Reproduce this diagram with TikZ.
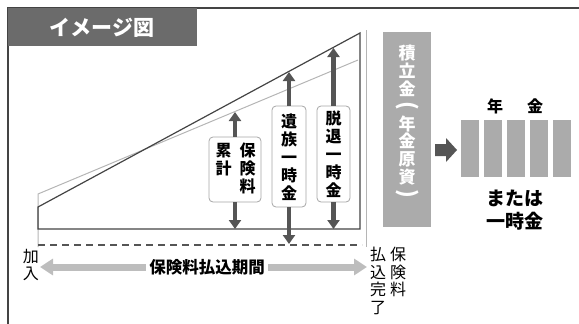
\documentclass[tikz,border=0pt]{standalone}
\usepackage{fontspec}
\setmainfont{Noto Sans CJK JP}[BoldFont={Noto Sans CJK JP Black}]
\usetikzlibrary{arrows.meta}
\definecolor{titlegray}{HTML}{6B6B6B}
\definecolor{boxgray}{HTML}{ABABAB}
\definecolor{arrowgray}{HTML}{555555}
\definecolor{linedark}{HTML}{444444}
\definecolor{lightline}{HTML}{B5B5B5}
\definecolor{periodgray}{HTML}{BDBDBD}
\tikzset{
  vbox/.style={draw=gray!70, fill=white, rounded corners=4pt, line width=0.8pt, inner sep=0pt},
  vtext/.style={align=center, inner sep=0pt, font=\fontsize{16}{18}\selectfont\bfseries, text=black},
  vtextr/.style={align=center, inner sep=0pt, font=\fontsize{16}{17.5}\selectfont, text=black},
  bigarrow/.style={draw=arrowgray, line width=4.5pt, -{Triangle[width=12pt,length=9pt]}},
  bar/.style={fill=boxgray, draw=none, inner sep=0pt},
}
\newcommand\vparl{{\fontsize{22}{17.6}\selectfont\rotatebox[origin=c]{-90}{(}}}
\newcommand\vparr{{\fontsize{22}{17.6}\selectfont\rotatebox[origin=c]{-90}{)}}}
\begin{document}
\begin{tikzpicture}[x=1pt,y=-1pt]
\useasboundingbox (0,0) rectangle (579,324);
% frame
\draw[linedark, line width=1.2pt] (7,8) -- (579,8);
\draw[linedark, line width=1.2pt] (8,8) -- (8,324);
% title
\node[fill=titlegray, minimum width=189pt, minimum height=38pt, inner sep=0pt, anchor=north west] (title) at (8,8) {};
\node[text=white, font=\fontsize{21}{24}\selectfont\bfseries] (titletext) at (102,28) {イメージ図};
% graph lines
\draw[lightline, line width=1pt] (38,247) -- (38,194) -- (358,60);
\draw[lightline, line width=0.8pt] (366,30) -- (366,247);
\draw[linedark, line width=1.2pt] (38,207) -- (360,33) -- (360,229) -- (38,229) -- cycle;
\draw[arrowgray, line width=1.5pt, dash pattern=on 7pt off 5pt] (38,245) -- (362,245);
% label boxes
\node[vbox, minimum width=52pt, minimum height=65pt] (b1) at (235,169.5) {};
\node[vtext, anchor=north] (b1r) at (247.5,143) {保\\険\\料};
\node[vtext, anchor=north] (b1l) at (223.5,143) {累\\計};
\node[vbox, minimum width=34pt, minimum height=101pt] (b2) at (289,156.5) {};
\node[vtext] (b2t) at (289,157) {遺\\族\\一\\時\\金};
\node[vbox, minimum width=33pt, minimum height=96pt] (b3) at (333.5,154) {};
\node[vtext] (b3t) at (333.5,154) {脱\\退\\一\\時\\金};
% arrow targets
\coordinate (t1) at (235,112);
\coordinate (d1) at (235,229);
\coordinate (t2) at (289,72);
\coordinate (d2) at (289,244);
\coordinate (t3) at (333.5,48);
\coordinate (d3) at (333.5,229);
\draw[bigarrow] (b1.north) -- (t1);
\draw[bigarrow] (b1.south) -- (d1);
\draw[bigarrow] (b2.north) -- (t2);
\draw[bigarrow] (b2.south) -- (d2);
\draw[bigarrow] (b3.north) -- (t3);
\draw[bigarrow] (b3.south) -- (d3);
% fund box
\node[fill=boxgray, minimum width=48pt, minimum height=195pt, inner sep=0pt, anchor=north west] (fund) at (383,32) {};
\node[align=center, inner sep=0pt, text=white, font=\fontsize{17}{17.6}\selectfont\bfseries] (fundtext) at (407,123) {積\\立\\金\\\vparl\\年\\金\\原\\資\\\vparr};
% arrow to pension
\fill[arrowgray] (435,144) -- (446,144) -- (446,138) -- (457,150) -- (446,162) -- (446,156) -- (435,156) -- cycle;
% bars
\node[bar, minimum width=18pt, minimum height=57pt, anchor=north west] (p1) at (461,120) {};
\node[bar, minimum width=18pt, minimum height=57pt, anchor=north west] (p2) at (484,120) {};
\node[bar, minimum width=18pt, minimum height=57pt, anchor=north west] (p3) at (507,120) {};
\node[bar, minimum width=18pt, minimum height=57pt, anchor=north west] (p4) at (530,120) {};
\node[bar, minimum width=18pt, minimum height=57pt, anchor=north west] (p5) at (553,120) {};
\node[font=\fontsize{16}{19}\selectfont\bfseries] (nen) at (495,106) {年};
\node[font=\fontsize{16}{19}\selectfont\bfseries] (kin) at (535,106) {金};
\node[font=\fontsize{19}{22}\selectfont\bfseries] (mata) at (515,198) {または};
\node[font=\fontsize{19}{22}\selectfont\bfseries] (ichiji) at (515,221) {一時金};
% bottom period
\node[vtextr, anchor=north] (kanyu) at (31,249) {加\\入};
\coordinate (pl) at (40,267);
\coordinate (pr) at (367,267);
\draw[periodgray, line width=7pt, {Triangle[width=16pt,length=13pt]}-{Triangle[width=16pt,length=13pt]}] (pl) -- (pr);
\node[fill=white, inner sep=3pt, font=\fontsize{16.5}{19}\selectfont\bfseries] (period) at (207,267) {保険料払込期間};
\node[vtextr, anchor=north] (endb) at (398,247) {保\\険\\料};
\node[vtextr, anchor=north] (enda) at (378,247) {払\\込\\完\\了};
\end{tikzpicture}
\end{document}
